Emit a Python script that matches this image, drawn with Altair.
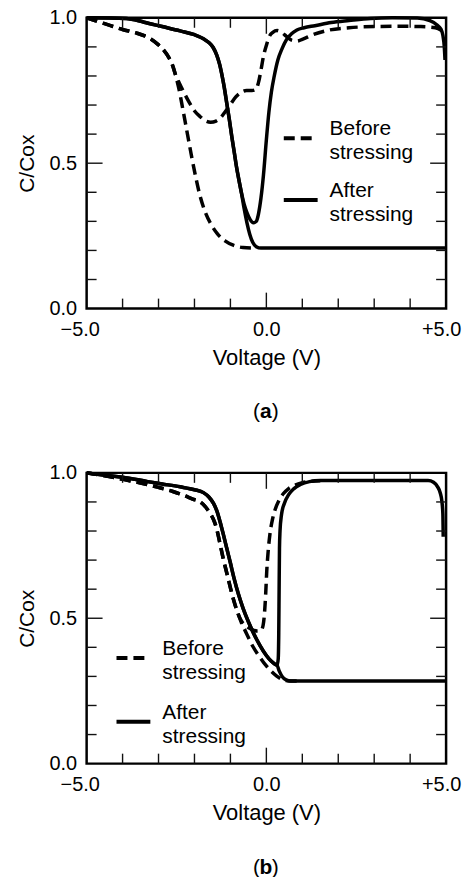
import altair as alt
import pandas as pd

# ---------------- data ----------------
# Panel (a) - before stressing (dashed): shared depletion part + two branches
a_before_dep_v = [-5.0, -4.5, -4.0, -3.6, -3.25, -3.0, -2.85, -2.72, -2.62, -2.53]
a_before_dep_c = [1.0, 0.98, 0.96, 0.947, 0.93, 0.907, 0.888, 0.865, 0.84, 0.805]
a_before_hf_v = [-2.44, -2.33, -2.21, -2.09, -1.97, -1.85, -1.71, -1.54, -1.36, -1.15, -0.92, -0.65, -0.35]
a_before_hf_c = [0.76, 0.69, 0.61, 0.53, 0.455, 0.39, 0.335, 0.29, 0.257, 0.233, 0.218, 0.21, 0.208]
a_before_lf_v = [-2.42, -2.30, -2.15, -1.98, -1.84, -1.70, -1.55, -1.40, -1.27, -1.14, -1.00, -0.85,
                 -0.70, -0.55, -0.40, -0.30, -0.22, -0.15, -0.08, 0.0, 0.08, 0.18, 0.30, 0.42, 0.55,
                 0.70, 0.85, 1.0, 1.3, 1.75, 2.3, 3.0, 3.7, 4.3, 4.7, 4.9]
a_before_lf_c = [0.775, 0.745, 0.71, 0.677, 0.66, 0.646, 0.641, 0.645, 0.657, 0.678, 0.702, 0.728,
                 0.744, 0.75, 0.75, 0.753, 0.777, 0.82, 0.868, 0.905, 0.935, 0.95, 0.956, 0.95, 0.937,
                 0.923, 0.92, 0.926, 0.942, 0.958, 0.966, 0.97, 0.971, 0.97, 0.966, 0.955]

# Panel (a) - after stressing (solid)
a_after_dep_v = [-5.0, -3.9, -3.4, -2.9, -2.4, -2.0, -1.75, -1.6, -1.48, -1.38, -1.30, -1.23, -1.17,
                 -1.10, -1.03, -0.96, -0.89, -0.83, -0.76, -0.69]
a_after_dep_c = [1.0, 0.998, 0.985, 0.97, 0.955, 0.942, 0.928, 0.915, 0.898, 0.872, 0.84, 0.80, 0.76,
                 0.705, 0.65, 0.59, 0.535, 0.487, 0.44, 0.396]
a_after_hf_v = [-0.62, -0.54, -0.46, -0.38, -0.28, -0.15, 0.2, 5.0]
a_after_hf_c = [0.345, 0.295, 0.255, 0.228, 0.213, 0.208, 0.208, 0.208]
a_after_lf_v = [-0.62, -0.54, -0.45, -0.36, -0.28, -0.22, -0.15, -0.08, 0.0, 0.07, 0.14, 0.22, 0.32,
                0.44, 0.56, 0.70, 0.85, 1.05, 1.35, 1.8, 2.3, 2.9, 3.5, 4.2, 4.55, 4.75, 4.85, 4.91,
                4.95, 4.97]
a_after_lf_c = [0.36, 0.33, 0.306, 0.295, 0.30, 0.325, 0.38, 0.46, 0.58, 0.675, 0.745, 0.80, 0.855,
                0.895, 0.925, 0.945, 0.958, 0.966, 0.973, 0.984, 0.991, 0.998, 1.0, 0.999, 0.99, 0.975,
                0.962, 0.94, 0.90, 0.855]

# Panel (b) - before stressing (dashed)
b_before_dep_v = [-5.0, -4.5, -4.0, -3.5, -3.0, -2.6, -2.3, -2.05, -1.84, -1.70, -1.58, -1.48, -1.40,
                  -1.33, -1.27, -1.20, -1.12, -1.04, -0.96, -0.88, -0.80]
b_before_dep_c = [1.0, 0.99, 0.978, 0.965, 0.95, 0.936, 0.923, 0.91, 0.9, 0.884, 0.864, 0.842, 0.815,
                  0.78, 0.745, 0.705, 0.665, 0.625, 0.585, 0.55, 0.52]
b_before_hf_v = [-0.70, -0.55, -0.37, -0.18, 0.0, 0.15, 0.28, 0.40, 0.52, 0.65, 1.0]
b_before_hf_c = [0.487, 0.447, 0.402, 0.366, 0.336, 0.316, 0.302, 0.292, 0.286, 0.284, 0.284]
b_before_lf_v = [-0.70, -0.55, -0.40, -0.25, -0.15, -0.09, -0.05, -0.02, 0.01, 0.05, 0.10, 0.17,
                 0.24, 0.35, 0.47, 0.62, 0.80, 1.0, 1.25, 1.5]
b_before_lf_c = [0.492, 0.472, 0.461, 0.456, 0.458, 0.476, 0.52, 0.58, 0.66, 0.73, 0.79, 0.84,
                 0.872, 0.905, 0.928, 0.946, 0.958, 0.966, 0.971, 0.973]

# Panel (b) - after stressing (solid)
b_after_dep_v = [-5.0, -4.5, -4.0, -3.3, -2.9, -2.4, -2.0, -1.75, -1.60, -1.47, -1.38, -1.29, -1.20,
                 -1.10, -1.00, -0.90, -0.78, -0.65, -0.50, -0.35, -0.18, 0.0, 0.14, 0.24, 0.30]
b_after_dep_c = [1.0, 0.992, 0.985, 0.97, 0.962, 0.952, 0.942, 0.932, 0.917, 0.895, 0.87, 0.833, 0.79,
                 0.74, 0.69, 0.638, 0.584, 0.535, 0.488, 0.447, 0.407, 0.372, 0.352, 0.342, 0.338]
b_after_lf_v = [0.33, 0.345, 0.355, 0.365, 0.38, 0.42, 0.50, 0.62, 0.76, 0.95, 1.2, 1.5, 4.5, 4.65,
                4.76, 4.84, 4.88, 4.91, 4.92]
b_after_lf_c = [0.36, 0.45, 0.60, 0.74, 0.80, 0.855, 0.895, 0.925, 0.945, 0.96, 0.97, 0.974, 0.974,
                0.968, 0.953, 0.93, 0.905, 0.86, 0.78]
b_after_hf_v = [0.36, 0.45, 0.55, 0.68, 5.0]
b_after_hf_c = [0.318, 0.298, 0.288, 0.284, 0.284]

series_labels = ["Before\nstressing", "After\nstressing"]
captions = ["a", "b"]
x_label_values = [-5, 0, 5]
y_label_values = [0.0, 0.5, 1.0]
x_minor_ticks = [-4, -3, -2, -1, 1, 2, 3, 4]
x_major_ticks = [0]
y_minor_ticks = [0.1, 0.2, 0.3, 0.4, 0.6, 0.7, 0.8, 0.9]
y_major_ticks = [0.5]

# ---------------- styling ----------------
FONT = "Liberation Sans"
W, H = 361, 292
DASH = [11, 6]
LW = 3.5

XS = alt.Scale(domain=[-5, 5], nice=False, zero=False)
YS = alt.Scale(domain=[0, 1], nice=False, zero=False)

XAXIS = alt.Axis(
    values=x_label_values, title="Voltage (V)", grid=False, domain=False, ticks=False, tickSize=0,
    labelFlush=False, labelOverlap=False, labelPadding=11, labelFontSize=20, labelColor="black",
    labelExpr="datum.value < 0 ? '\u2212' + format(-datum.value, '.1f') : "
              "(datum.value > 0 ? '+' + format(datum.value, '.1f') : format(datum.value, '.1f'))",
    labelOffset={"condition": [{"test": "datum.value < 0", "value": -7},
                               {"test": "datum.value > 0", "value": -5}], "value": 0},
    titleFontSize=22, titleFontWeight="normal", titleColor="black", titlePadding=8,
)
YAXIS = alt.Axis(
    values=y_label_values, format=".1f", title="C/Cox", grid=False, domain=False, ticks=False,
    tickSize=0, labelFlush=False, labelOverlap=False, labelPadding=10, labelFontSize=20,
    labelColor="black", titleFontSize=21, titleFontWeight="normal", titleColor="black",
    titlePadding=12,
)


def curves_df(parts):
    frames = []
    for name, v, c in parts:
        frames.append(pd.DataFrame({"V": v, "C": c, "curve": name, "i": list(range(len(v)))}))
    return pd.concat(frames, ignore_index=True)


def line_layer(df, dashed):
    props = dict(interpolate="monotone", color="black", strokeWidth=LW, strokeCap="butt")
    if dashed:
        props["strokeDash"] = DASH
    return alt.Chart(df).mark_line(**props).encode(
        x=alt.X("V:Q", scale=XS, axis=XAXIS),
        y=alt.Y("C:Q", scale=YS, axis=YAXIS),
        detail="curve:N",
        order="i:Q",
    )


def tick_layers():
    layers = []
    tick = dict(color="#111", strokeWidth=1.4)
    for vals, L in [(x_minor_ticks, 10), (x_major_ticks, 16)]:
        d = pd.DataFrame({"V": vals})
        layers.append(alt.Chart(d).mark_rule(**tick).encode(
            x=alt.X("V:Q", scale=XS, axis=XAXIS), y=alt.value(H), y2=alt.value(H - L)))
        layers.append(alt.Chart(d).mark_rule(**tick).encode(
            x=alt.X("V:Q", scale=XS, axis=XAXIS), y=alt.value(0), y2=alt.value(L)))
    for vals, L in [(y_minor_ticks, 10), (y_major_ticks, 16)]:
        d = pd.DataFrame({"C": vals})
        layers.append(alt.Chart(d).mark_rule(**tick).encode(
            y=alt.Y("C:Q", scale=YS, axis=YAXIS), x=alt.value(0), x2=alt.value(L)))
        layers.append(alt.Chart(d).mark_rule(**tick).encode(
            y=alt.Y("C:Q", scale=YS, axis=YAXIS), x=alt.value(W), x2=alt.value(W - L)))
    return layers


def legend_layers(sx1, sx2, tx, y_before, y_after):
    layers = []
    for k, (ys, dashed) in enumerate([(y_before, True), (y_after, False)]):
        d = pd.DataFrame({"label": [series_labels[k]]})
        rp = dict(color="black", strokeWidth=4, strokeCap="butt")
        if dashed:
            rp["strokeDash"] = DASH
        layers.append(alt.Chart(d).mark_rule(**rp).encode(
            x=alt.value(sx1), x2=alt.value(sx2), y=alt.value(ys + 3)))
        layers.append(alt.Chart(d).mark_text(
            align="left", baseline="alphabetic", lineBreak="\n", lineHeight=24,
            fontSize=21, color="black").encode(
            text="label:N", x=alt.value(tx), y=alt.value(ys)))
    return layers


def caption_layers(letter, yc):
    d = pd.DataFrame({"t": [letter]})
    return [
        alt.Chart(d).mark_text(text="(", align="right", baseline="middle", fontSize=21,
                               color="black").encode(x=alt.value(174), y=alt.value(yc)),
        alt.Chart(d).mark_text(align="center", baseline="middle", fontSize=21, fontWeight="bold",
                               color="black").encode(text="t:N", x=alt.value(180), y=alt.value(yc)),
        alt.Chart(d).mark_text(text=")", align="left", baseline="middle", fontSize=21,
                               color="black").encode(x=alt.value(186), y=alt.value(yc)),
    ]


def panel(before_parts, after_parts, legend_args, letter, cap_y):
    layers = [line_layer(curves_df(before_parts), True),
              line_layer(curves_df(after_parts), False)]
    layers += tick_layers()
    layers += legend_layers(*legend_args)
    layers += caption_layers(letter, cap_y)
    return alt.layer(*layers).properties(width=W, height=H)


panel_a = panel(
    [("hf", a_before_dep_v + a_before_hf_v, a_before_dep_c + a_before_hf_c),
     ("lf", a_before_dep_v + a_before_lf_v, a_before_dep_c + a_before_lf_c)],
    [("hf", a_after_dep_v + a_after_hf_v, a_after_dep_c + a_after_hf_c),
     ("lf", a_after_dep_v + a_after_lf_v, a_after_dep_c + a_after_lf_c)],
    (198, 232, 244, 118, 180), captions[0], 396,
)

panel_b = panel(
    [("hf", b_before_dep_v + b_before_hf_v, b_before_dep_c + b_before_hf_c),
     ("lf", b_before_dep_v + b_before_lf_v, b_before_dep_c + b_before_lf_c)],
    [("hf", b_after_dep_v + b_after_hf_v, b_after_dep_c + b_after_hf_c),
     ("lf", b_after_dep_v + b_after_lf_v, b_after_dep_c + b_after_lf_c)],
    (30, 64, 76, 183, 247), captions[1], 397,
)

chart = alt.vconcat(panel_a, panel_b, spacing=37).properties(
    padding={"left": 14, "top": 4, "right": 5, "bottom": 5}
).configure(font=FONT).configure_view(stroke="black", strokeWidth=2.5)

chart.save("out.html", embed_options={"renderer": "svg", "actions": False})
